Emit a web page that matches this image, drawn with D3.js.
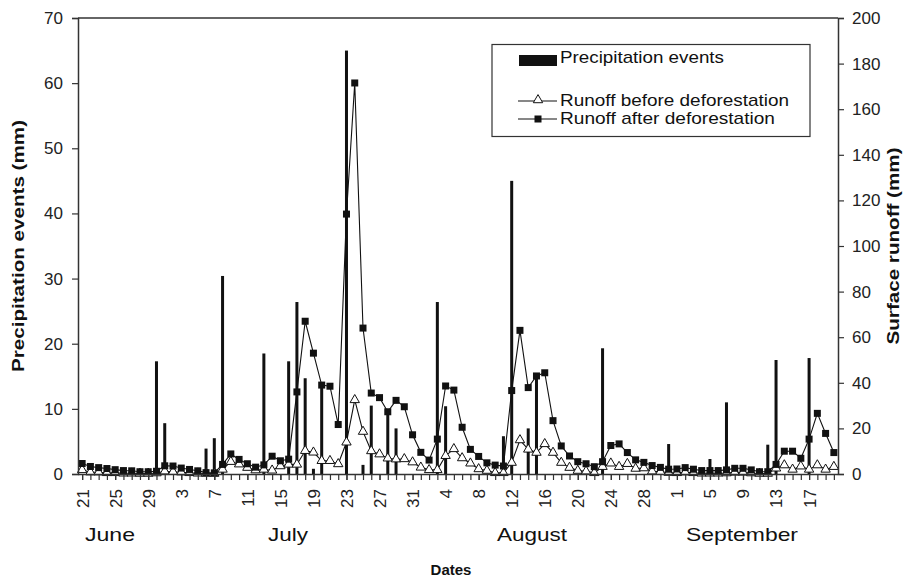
<!DOCTYPE html>
<html><head><meta charset="utf-8">
<script src="https://cdn.jsdelivr.net/npm/d3@7"></script>
<style>
body{margin:0;background:#fff;}
svg{font-family:"Liberation Sans",Arial,sans-serif;}
</style></head>
<body><svg id="c" width="903" height="579"></svg>
<script>
// Day index 0 = 21 June, last index 91 = 20 September
const dayCount = 92;
const xTickLabels = ["21","25","29","3","7","11","15","19","23","27","31","4","8","12","16","20","24","28","1","5","9","13","17"];
const months = ["June","July","August","September"];
const monthLabelX = [85,268,497,686];
const monthLabelW = [50,40,70,112];

// precipitation events: day index and amount (mm)
const precipDays =   [9,   10,  15,  16,  17,   22,   25,   26,   27,   28,  29, 32, 34,  35,   37,  38, 43,   44,   51,  52, 54, 55,   63,   71,  76,  78, 83,  84,   88];
const precipValues = [17.3,7.8, 3.9, 5.5, 30.4, 18.5, 17.3, 26.4, 14.7, 0.8, 14, 65, 1.4, 10.5, 9.5, 7,  26.4, 10.4, 5.8, 45, 7,  15.3, 19.3, 4.6, 2.3, 11, 4.5, 17.5, 17.8];

// runoff after deforestation (mm), one value per day
const runoffAfter = [4.6,3.3,2.8,2.4,1.9,1.5,1.4,1.0,1.0,1.2,
  3.6,3.5,2.6,2.0,1.4,0.6,0.5,4.2,8.8,6.4,
  4.5,3.0,4.0,7.8,5.8,6.5,36,67,53,39,
  38.5,21.7,114,171.5,64,35.5,33.5,27.3,32.3,29.5,
  17.2,9.5,6.1,15.3,38.6,36.8,20.5,10.8,7.7,4.9,
  3.9,3.5,36.6,63,37.9,43,44.4,23.4,12.3,7.9,
  5.4,4.5,3.2,5.4,12.5,13.2,9.4,6.2,5.1,3.7,
  2.9,2.1,2.2,2.8,2.1,1.5,1.5,1.5,1.8,2.5,
  2.5,1.8,1.0,1.0,4.2,10,10,6.9,15.3,26.6,
  17.8,9.4];

// runoff before deforestation (mm), one value per day
const runoffBefore = [1.8,0.8,0.8,0.5,0.5,0.3,0.3,0.2,0.2,0.4,
  1.2,1.0,0.8,0.5,0.3,0.2,0.2,2.0,5.4,4.3,
  2.8,1.7,2.0,1.6,3.5,4.2,4.2,10.2,9.5,5.8,
  5.8,4.4,13.9,32.5,18.6,10.1,8.7,6.9,6.5,6.6,
  5.2,2.9,1.8,1.8,8,11,7,4.7,2.2,1.5,
  0.5,0.5,5,14.9,10.8,9.4,13.2,9.4,5,2.8,
  1.5,1.2,0.5,3.2,4.7,3.2,4.5,2.4,2.6,1.2,
  1.0,0.6,0.5,0.8,0.5,0.3,0.3,0.3,0.4,0.7,
  0.7,0.4,0.2,0.2,2.5,3.9,2.0,3.4,2.0,3.9,
  2.0,3.2];

const leftTicks = [0,10,20,30,40,50,60,70];
const rightTicks = [0,20,40,60,80,100,120,140,160,180,200];
const legendLabels = ["Precipitation events","Runoff before deforestation","Runoff after deforestation"];
const legendW = [164,229,215];

const svg = d3.select("#c");
const L = 78, R = 838, T = 18, B = 474;
const x = d3.scaleLinear().domain([-0.5, dayCount - 0.5]).range([L, R]);
const yL = d3.scaleLinear().domain([0,70]).range([B, T]);
const yR = d3.scaleLinear().domain([0,200]).range([B, T]);
const axisColor = "#333";

// top frame
svg.append("line").attr("x1",L).attr("x2",R).attr("y1",T).attr("y2",T)
  .attr("stroke",axisColor).attr("stroke-width",1.5);

// precipitation bars
svg.append("g").selectAll("rect").data(precipDays).join("rect")
  .attr("x", (d)=>x(d)-1.5).attr("width",3)
  .attr("y",(d,i)=>yL(precipValues[i]))
  .attr("height",(d,i)=>B - yL(precipValues[i]))
  .attr("fill","#111");

// lines
const days = d3.range(dayCount);
const lineAfter = d3.line().x(i=>x(i)).y(i=>yR(runoffAfter[i]));
const lineBefore = d3.line().x(i=>x(i)).y(i=>yR(runoffBefore[i]));
svg.append("path").attr("d",lineBefore(days)).attr("fill","none").attr("stroke","#111").attr("stroke-width",1.1);
svg.append("path").attr("d",lineAfter(days)).attr("fill","none").attr("stroke","#111").attr("stroke-width",1.1);

// markers
const tri = d3.symbol().type(d3.symbolTriangle).size(38);
svg.append("g").selectAll("path").data(days).join("path")
  .attr("d",tri).attr("transform",i=>`translate(${x(i)},${yR(runoffBefore[i])})`)
  .attr("fill","#fff").attr("stroke","#111").attr("stroke-width",1);
svg.append("g").selectAll("rect").data(days).join("rect")
  .attr("x",i=>x(i)-3.5).attr("y",i=>yR(runoffAfter[i])-3.5)
  .attr("width",7).attr("height",7).attr("fill","#111");

// axes
function styleAxis(g){
  g.select(".domain").attr("stroke",axisColor).attr("stroke-width",1.5);
  g.selectAll(".tick line").attr("stroke",axisColor).attr("stroke-width",1.2);
  g.selectAll(".tick text").attr("fill","#222").attr("font-size",17);
}
const gL = svg.append("g").attr("transform",`translate(${L},0)`)
  .call(d3.axisLeft(yL).tickValues(leftTicks).tickSize(6).tickPadding(9));
styleAxis(gL);
const gR = svg.append("g").attr("transform",`translate(${R},0)`)
  .call(d3.axisRight(yR).tickValues(rightTicks).tickSize(6).tickPadding(8));
styleAxis(gR);

// x axis: minor ticks each day
const gXm = svg.append("g").attr("transform",`translate(0,${B})`)
  .call(d3.axisBottom(x).tickValues(days).tickSize(6).tickFormat(""));
styleAxis(gXm);
gXm.select(".domain").attr("d",`M${L},0.5H${R}`);
const tickIdx = xTickLabels.map((d,k)=>k*4);
const gX = svg.append("g").attr("transform",`translate(0,${B})`)
  .call(d3.axisBottom(x).tickValues(tickIdx).tickSize(6).tickFormat((d)=>xTickLabels[d/4]));
styleAxis(gX);
gX.select(".domain").remove();
gX.selectAll(".tick text").attr("transform","rotate(-90)")
  .attr("text-anchor","end").attr("x",-15).attr("y",0).attr("dy","0.35em");

// month labels
svg.append("g").selectAll("text").data(months).join("text")
  .attr("x",(d,i)=>monthLabelX[i]).attr("y",541)
  .attr("font-size",19).attr("fill","#111")
  .attr("textLength",(d,i)=>monthLabelW[i]).attr("lengthAdjust","spacingAndGlyphs").text(d=>d);

// axis titles
svg.append("text").attr("x",451).attr("y",575).attr("text-anchor","middle")
  .attr("font-weight","bold").attr("font-size",15).attr("fill","#111").text("Dates");
svg.append("text").attr("transform","translate(24,246) rotate(-90)").attr("text-anchor","middle")
  .attr("font-weight","bold").attr("font-size",16).attr("fill","#111")
  .attr("textLength",252).attr("lengthAdjust","spacingAndGlyphs").text("Precipitation events (mm)");
svg.append("text").attr("transform","translate(899,246) rotate(-90)").attr("text-anchor","middle")
  .attr("font-weight","bold").attr("font-size",16).attr("fill","#111")
  .attr("textLength",197).attr("lengthAdjust","spacingAndGlyphs").text("Surface runoff (mm)");

// legend
const lg = svg.append("g");
lg.append("rect").attr("x",492).attr("y",44.5).attr("width",318).attr("height",92)
  .attr("fill","#fff").attr("stroke","#333").attr("stroke-width",1.2);
lg.append("rect").attr("x",519).attr("y",55).attr("width",38).attr("height",11).attr("fill","#111");
lg.append("line").attr("x1",518).attr("x2",557).attr("y1",101).attr("y2",101).attr("stroke","#111").attr("stroke-width",1.1);
lg.append("path").attr("d",tri).attr("transform","translate(538,100)").attr("fill","#fff").attr("stroke","#111");
lg.append("line").attr("x1",518).attr("x2",557).attr("y1",119).attr("y2",119).attr("stroke","#111").attr("stroke-width",1.1);
lg.append("rect").attr("x",534.5).attr("y",115.5).attr("width",7).attr("height",7).attr("fill","#111");
const legendY = [63,106,124];
lg.selectAll("text.lt").data(legendLabels).join("text").attr("class","lt")
  .attr("x",560).attr("y",(d,i)=>legendY[i]).attr("font-size",17).attr("fill","#111")
  .attr("textLength",(d,i)=>legendW[i]).attr("lengthAdjust","spacingAndGlyphs").text(d=>d);
</script></body></html>
